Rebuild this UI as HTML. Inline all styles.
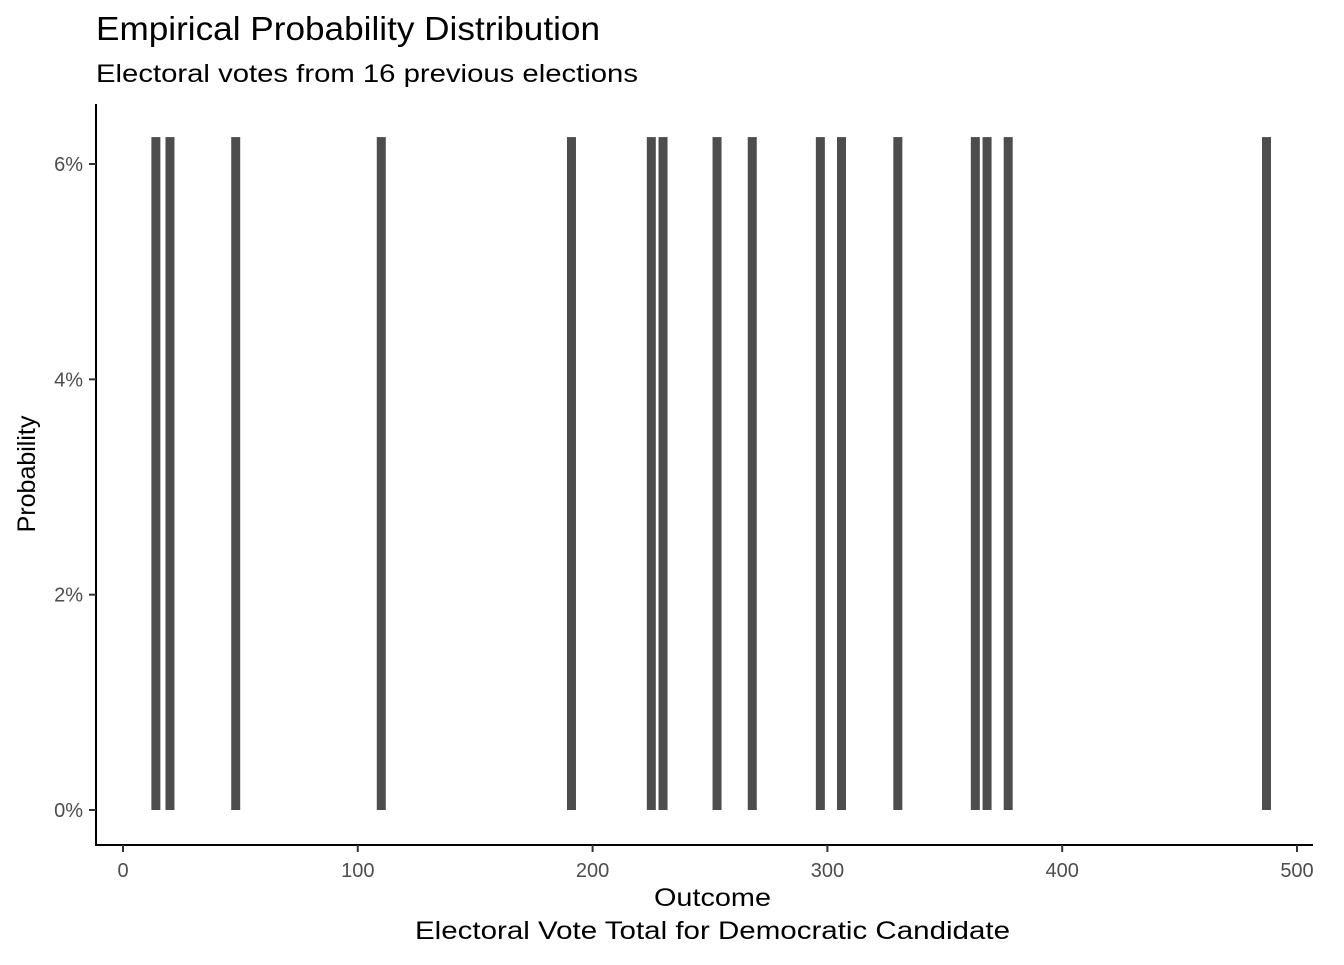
<!DOCTYPE html>
<html><head><meta charset="utf-8"><style>
body{margin:0;background:#fff;font-family:"Liberation Sans",Arial,sans-serif}
</style></head><body>
<svg width="1344" height="960" xmlns="http://www.w3.org/2000/svg" font-family="Liberation Sans, Arial, sans-serif">
<text x="96" y="40" font-size="33" fill="#000" textLength="504" lengthAdjust="spacingAndGlyphs">Empirical Probability Distribution</text>
<text x="96" y="82" font-size="25" fill="#000" textLength="542" lengthAdjust="spacingAndGlyphs">Electoral votes from 16 previous elections</text>
<g id="bars"></g>
<g id="axes"></g>
<text x="654" y="906" font-size="25" textLength="117" lengthAdjust="spacingAndGlyphs">Outcome</text>
<text x="415" y="939" font-size="25" textLength="595" lengthAdjust="spacingAndGlyphs">Electoral Vote Total for Democratic Candidate</text>
<text transform="translate(35,474) rotate(-90)" font-size="25" text-anchor="middle">Probability</text>
</svg>
<script>
const outcomes=[14,20,48,110,191,225,230,253,268,297,306,330,363,368,377,487];
const probs=[0.0625,0.0625,0.0625,0.0625,0.0625,0.0625,0.0625,0.0625,0.0625,0.0625,0.0625,0.0625,0.0625,0.0625,0.0625,0.0625];
const xTicks=[0,100,200,300,400,500];
const yTicks=[0,0.02,0.04,0.06];
const yTickLabels=["0%","2%","4%","6%"];
const NS="http://www.w3.org/2000/svg";
const xs=v=>123+v*(1297-123)/500;
const ys=v=>810-v*(810-164)/0.06;
function mk(t,a,p){const e=document.createElementNS(NS,t);for(const k in a)e.setAttribute(k,a[k]);p.appendChild(e);return e;}
const bars=document.getElementById('bars'),axes=document.getElementById('axes');
outcomes.forEach((o,i)=>{
 const r=mk('rect',{x:xs(o)-4.5,y:ys(probs[i]),width:9,height:ys(0)-ys(probs[i]),fill:'#4d4d4d'},bars);
 
 
});
let l=mk('line',{x1:96,y1:104,x2:96,y2:845,stroke:'#000','stroke-width':2},axes);

l=mk('line',{x1:95,y1:845,x2:1313,y2:845,stroke:'#000','stroke-width':2},axes);

xTicks.forEach(t=>{
 const tk=mk('line',{x1:xs(t),y1:845,x2:xs(t),y2:852,stroke:'#333','stroke-width':2},axes);
 
 const tx=mk('text',{x:xs(t),y:877,'font-size':20,fill:'#4d4d4d','text-anchor':'middle'},axes);
 tx.textContent=t;
 
});
yTicks.forEach((t,i)=>{
 const tk=mk('line',{x1:89,y1:ys(t),x2:96,y2:ys(t),stroke:'#333','stroke-width':2},axes);
 
 const tx=mk('text',{x:83,y:ys(t)+7,'font-size':20,fill:'#4d4d4d','text-anchor':'end'},axes);
 tx.textContent=yTickLabels[i];
 
});
</script>
</body></html>
